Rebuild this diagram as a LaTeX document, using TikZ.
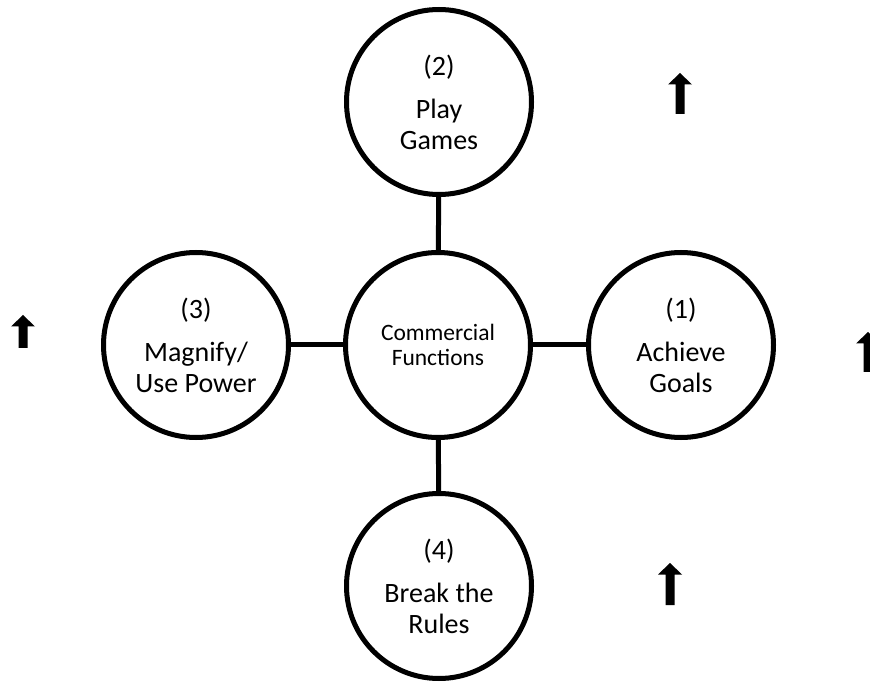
\documentclass[tikz,border=0pt]{standalone}
\usepackage{fontspec}
\setmainfont{Carlito}
\begin{document}
\begin{tikzpicture}[x=1pt,y=-1pt,
  bubble/.style={circle, draw=black, line width=5pt, minimum size=185pt,
    inner sep=0pt, fill=white, align=center,
    font=\fontsize{28}{30.5}\selectfont},
  hub/.style={bubble, font=\fontsize{23.5}{25.5}\selectfont},
  link/.style={draw=black, line width=5pt},
  arrowlen/.store in=\arrowlen, arrowlen=41,
  blockarrow/.pic={
    \fill[black] (0,0) -- (12,11.5) -- (4.5,11.5) -- (4.5,\arrowlen)
      -- (-4.5,\arrowlen) -- (-4.5,11.5) -- (-12,11.5) -- cycle;}]
\useasboundingbox (0,0) rectangle (870,684);

% hub and the four functions around it
\node[hub] (hub) at (438,345) {Commercial\\Functions};
\node[bubble] (games) at (439,102) {(2)\\[13pt]Play\\Games};
\node[bubble] (power) at (196,345) {(3)\\[13pt]Magnify/\\Use Power};
\node[bubble] (goals) at (681,345) {(1)\\[13pt]Achieve\\Goals};
\node[bubble] (rules) at (439,586) {(4)\\[13pt]Break the\\Rules};

% spokes
\draw[link] (hub) -- (games);
\draw[link] (hub) -- (power);
\draw[link] (hub) -- (goals);
\draw[link] (hub) -- (rules);

% upward markers
\pic at (680,73) {blockarrow};
\pic[arrowlen=33] at (23,315) {blockarrow};
\pic[arrowlen=40] at (868,332) {blockarrow};
\pic[arrowlen=42] at (670,563) {blockarrow};
\end{tikzpicture}
\end{document}
